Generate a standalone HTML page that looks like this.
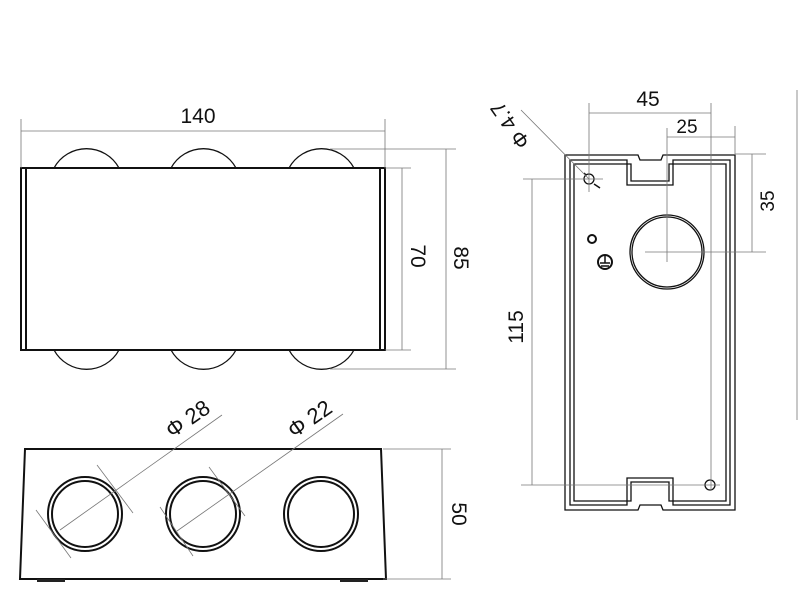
<!DOCTYPE html>
<html><head><meta charset="utf-8"><style>html,body{margin:0;padding:0;background:#fff}svg{display:block}</style></head>
<body>
<svg width="800" height="600" viewBox="0 0 800 600" xmlns="http://www.w3.org/2000/svg" font-family="Liberation Sans, sans-serif">
<g fill="none" stroke="#111" stroke-width="1.3">
  <path d="M54,168 A37,37 0 0 1 119,168"/>
  <path d="M171,168 A37,37 0 0 1 236,168"/>
  <path d="M289,168 A37,37 0 0 1 354,168"/>
  <path d="M54,350 A37,37 0 0 0 119,350"/>
  <path d="M171,350 A37,37 0 0 0 236,350"/>
  <path d="M289,350 A37,37 0 0 0 354,350"/>
</g>
<rect x="21" y="168" width="364" height="182" fill="#fff" stroke="#111" stroke-width="2"/>
<line x1="26" y1="168" x2="26" y2="350" stroke="#111" stroke-width="2"/>
<line x1="380" y1="168" x2="380" y2="350" stroke="#111" stroke-width="2"/>

<g stroke="#777" stroke-width="0.8" fill="none">
  <line x1="21" y1="119" x2="21" y2="168"/>
  <line x1="385" y1="119" x2="385" y2="168"/>
  <line x1="21" y1="131" x2="385" y2="131"/>
  <line x1="330" y1="149" x2="456" y2="149"/>
  <line x1="330" y1="369" x2="456" y2="369"/>
  <line x1="446" y1="149" x2="446" y2="369"/>
  <line x1="385" y1="168" x2="411" y2="168"/>
  <line x1="385" y1="350" x2="411" y2="350"/>
  <line x1="402" y1="168" x2="402" y2="350"/>
</g>
<text x="198" y="123" font-size="21" text-anchor="middle" fill="#111">140</text>
<text transform="translate(411,256) rotate(90)" font-size="21" text-anchor="middle" fill="#111">70</text>
<text transform="translate(454,258) rotate(90)" font-size="21" text-anchor="middle" fill="#111">85</text>

<path d="M25,449 L381,449 L386,579 L20,579 Z" fill="#fff" stroke="#111" stroke-width="2"/>
<rect x="37" y="579" width="28" height="3" fill="#222"/>
<rect x="340" y="579" width="28" height="3" fill="#222"/>
<g fill="none" stroke="#111" stroke-width="2">
  <circle cx="85" cy="514" r="37"/><circle cx="85" cy="514" r="33"/>
  <circle cx="203" cy="514" r="37"/><circle cx="203" cy="514" r="33"/>
  <circle cx="321" cy="514" r="37"/><circle cx="321" cy="514" r="33"/>
</g>
<g stroke="#777" stroke-width="0.8">
  <line x1="60" y1="530" x2="222" y2="415"/>
  <line x1="36" y1="510" x2="71" y2="558"/>
  <line x1="97" y1="465" x2="133" y2="513"/>
  <line x1="177" y1="531" x2="343" y2="414"/>
  <line x1="160" y1="507" x2="193" y2="556"/>
  <line x1="209" y1="467" x2="245" y2="516"/>
  <line x1="383" y1="449" x2="451" y2="449"/>
  <line x1="383" y1="579" x2="451" y2="579"/>
  <line x1="442" y1="449" x2="442" y2="579"/>
</g>
<text transform="translate(192,425) rotate(-35)" font-size="22" text-anchor="middle" fill="#111">Φ  28</text>
<text transform="translate(314,425) rotate(-35)" font-size="22" text-anchor="middle" fill="#111">Φ  22</text>
<text transform="translate(452,514) rotate(90)" font-size="21" text-anchor="middle" fill="#111">50</text>

<g fill="none" stroke="#111" stroke-width="1.3">
  <path d="M565,155 L638,155 L640,160 L661,160 L663,155 L735,155 L735,510 L663,510 L661,505 L640,505 L638,510 L565,510 Z"/>
  <path d="M570,160 L627,160 L627,185 L673,185 L673,160 L730,160 L730,505 L673,505 L673,478 L627,478 L627,505 L570,505 Z"/>
  <path d="M574,164 L631,164 L631,181 L669,181 L669,164 L726,164 L726,501 L669,501 L669,482 L631,482 L631,501 L574,501 Z"/>
  <circle cx="667" cy="252" r="37"/><circle cx="667" cy="252" r="35"/>
  <circle cx="589" cy="179" r="5"/>
  <circle cx="710" cy="485" r="5"/>
  <circle cx="592" cy="239" r="4" stroke-width="2"/>
  <circle cx="605" cy="262" r="7" stroke-width="2"/>
</g>
<g stroke="#111" stroke-width="1.5">
  <line x1="605" y1="256" x2="605" y2="263"/>
  <line x1="600" y1="263" x2="610" y2="263"/>
  <line x1="601" y1="266" x2="609" y2="266"/>
  <line x1="584" y1="173" x2="586" y2="175"/>
  <line x1="594" y1="184" x2="600" y2="188"/>
</g>
<g stroke="#777" stroke-width="0.8" fill="none">
  <line x1="589" y1="103" x2="589" y2="192"/>
  <line x1="711" y1="103" x2="711" y2="490"/>
  <line x1="589" y1="113" x2="711" y2="113"/>
  <line x1="667" y1="128" x2="667" y2="262"/>
  <line x1="735" y1="126" x2="735" y2="155"/>
  <line x1="667" y1="137" x2="735" y2="137"/>
  <line x1="735" y1="154" x2="766" y2="154"/>
  <line x1="645" y1="252" x2="766" y2="252"/>
  <line x1="752" y1="154" x2="752" y2="252"/>
  <line x1="523" y1="179" x2="603" y2="179"/>
  <line x1="521" y1="485" x2="720" y2="485"/>
  <line x1="532" y1="179" x2="532" y2="485"/>
  <line x1="521" y1="110" x2="589" y2="179"/>
  <line x1="797" y1="90" x2="797" y2="420"/>
</g>
<text x="648" y="106" font-size="21" text-anchor="middle" fill="#111">45</text>
<text x="687" y="133" font-size="19" text-anchor="middle" fill="#111">25</text>
<text transform="translate(774,201) rotate(-90)" font-size="19" text-anchor="middle" fill="#111">35</text>
<text transform="translate(523,327) rotate(-90)" font-size="21" text-anchor="middle" fill="#111">115</text>
<text transform="translate(516,121) rotate(-125)" font-size="21" text-anchor="middle" fill="#111">Φ 4.7</text>
</svg>
</body></html>
